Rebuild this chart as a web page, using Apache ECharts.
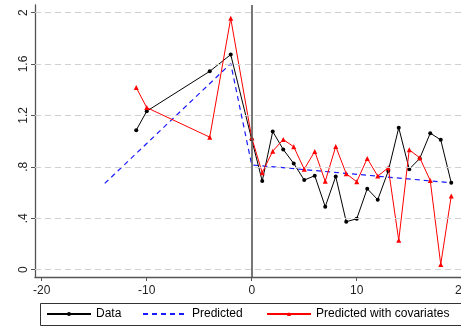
<!DOCTYPE html>
<html>
<head>
<meta charset="utf-8">
<script src="https://cdn.jsdelivr.net/npm/echarts@6/dist/echarts.min.js"></script>
<style>
  html, body { margin: 0; padding: 0; background: #fff; }
  #chart { width: 461px; height: 333px; }
</style>
</head>
<body>
<div id="chart"></div>
<script>
// Event time (periods relative to treatment)
const dataX = [-11, -10, -4, -2, 0, 1, 2, 3, 4, 5, 6, 7, 8, 9, 10, 11, 12, 13, 14, 15, 16, 17, 18, 19];
// Observed outcome
const dataY = [1.085, 1.233, 1.543, 1.673, 1.013, 0.689, 1.075, 0.935, 0.826, 0.697, 0.731, 0.490,
               0.725, 0.373, 0.396, 0.630, 0.544, 0.767, 1.104, 0.782, 0.865, 1.062, 1.010, 0.676];
// Prediction with covariates
const covY = [1.417, 1.261, 1.031, 1.955, 1.026, 0.754, 0.922, 1.013, 0.956, 0.782, 0.920, 0.687,
              0.959, 0.746, 0.684, 0.865, 0.728, 0.793, 0.228, 0.933, 0.870, 0.694, 0.041, 0.573];
// Baseline prediction (piecewise trend)
const predX = [-14, -2, 0, 19];
const predY = [0.671, 1.603, 0.815, 0.676];

const xTicks = [-20, -10, 0, 10, 20];
const yTicks = [0, 0.4, 0.8, 1.2, 1.6, 2];
const yTickLabels = ['0', '.4', '.8', '1.2', '1.6', '2'];

const pairs = (xs, ys) => xs.map((x, i) => [x, ys[i]]);

const FONT = 'Liberation Sans, Arial, Helvetica, sans-serif';
const chart = echarts.init(document.getElementById('chart'), null, { renderer: 'canvas' });

const legendBase = {
  top: 308,
  itemWidth: 44,
  itemHeight: 5,
  itemGap: 0,
  padding: 0,
  textStyle: { fontFamily: FONT, fontSize: 12, color: '#000' },
  selectedMode: false
};

chart.setOption({
  animation: false,
  backgroundColor: '#fff',
  grid: { left: 35, top: 5, width: 430, height: 272, containLabel: false, outerBoundsMode: 'none' },
  xAxis: {
    type: 'value',
    min: -20.64,
    max: 20.31,
    axisLine: { show: true, onZero: false, lineStyle: { color: '#555', width: 1.3 } },
    axisTick: { show: true, length: 4, customValues: xTicks, lineStyle: { color: '#555' } },
    axisLabel: {
      customValues: xTicks,
      margin: 8,
      fontFamily: FONT, fontSize: 12, color: '#222',
      formatter: v => String(v)
    },
    splitLine: { show: false }
  },
  yAxis: {
    type: 'value',
    min: -0.057,
    max: 2.059,
    axisLine: { show: true, onZero: false, lineStyle: { color: '#555', width: 1.3 } },
    axisTick: { show: true, length: 4, customValues: yTicks, lineStyle: { color: '#555' } },
    axisLabel: {
      customValues: yTicks,
      rotate: 90,
      margin: 5,
      fontFamily: FONT, fontSize: 12, color: '#222',
      formatter: v => {
        const i = yTicks.findIndex(t => Math.abs(t - v) < 1e-6);
        return i >= 0 ? yTickLabels[i] : '';
      }
    },
    splitLine: { show: false }
  },
  legend: [
    Object.assign({}, legendBase, { left: 46, data: ['Data'] }),
    Object.assign({}, legendBase, { left: 142, data: ['Predicted'], itemStyle: { opacity: 0 } }),
    Object.assign({}, legendBase, { left: 266, data: ['Predicted with covariates'] })
  ],
  graphic: [{
    type: 'rect',
    shape: { x: 40.5, y: 303.5, width: 440, height: 22 },
    style: { fill: 'none', stroke: '#333', lineWidth: 1 },
    silent: true,
    z: 0
  }],
  series: [
    {
      // horizontal reference grid and treatment line
      type: 'line',
      data: [],
      silent: true,
      markLine: {
        silent: true,
        symbol: 'none',
        label: { show: false },
        animation: false,
        data: yTicks.map(t => ({ yAxis: t, lineStyle: { color: '#d0d0d0', width: 1, type: [6, 4] } }))
          .concat([{ xAxis: 0, lineStyle: { color: '#555', width: 1.6, type: 'solid' } }])
      },
      z: 1
    },
    {
      name: 'Data',
      type: 'line',
      data: pairs(dataX, dataY),
      symbol: 'circle',
      symbolSize: 4,
      itemStyle: { color: '#000' },
      lineStyle: { color: '#000', width: 1 },
      z: 3
    },
    {
      name: 'Predicted',
      type: 'line',
      data: pairs(predX, predY),
      symbol: 'none',
      itemStyle: { color: '#1a1aff' },
      lineStyle: { color: '#1a1aff', width: 1.2, type: [5, 4] },
      z: 2
    },
    {
      name: 'Predicted with covariates',
      type: 'line',
      data: pairs(dataX, covY),
      symbol: 'triangle',
      symbolSize: 5,
      itemStyle: { color: '#ff0000' },
      lineStyle: { color: '#ff0000', width: 1 },
      z: 4
    }
  ]
});
</script>
</body>
</html>
